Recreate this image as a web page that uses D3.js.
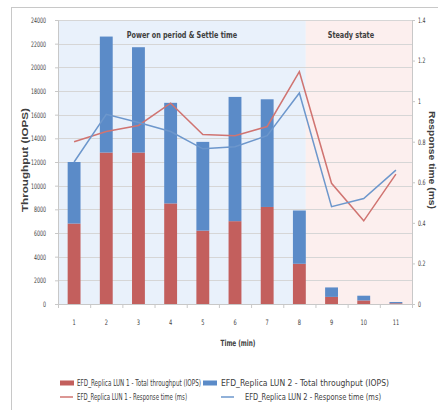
<!DOCTYPE html>
<html>
<head>
<meta charset="utf-8">
<script src="https://cdn.jsdelivr.net/npm/d3@7"></script>
<style>
  html, body { margin: 0; padding: 0; background: #fff; }
  svg { display: block; }
  text { font-family: "Liberation Sans Narrow", "DejaVu Sans Condensed", sans-serif; fill: #404040; }
</style>
</head>
<body>
<svg id="chart" width="438" height="410"></svg>
<script>
// Time steps (minutes)
const categories = ["1", "2", "3", "4", "5", "6", "7", "8", "9", "10", "11"];
// Throughput (IOPS) per LUN, stacked
const lun1Iops = [6800, 12800, 12800, 8500, 6200, 7000, 8200, 3400, 600, 300, 60];
const lun2Iops = [5200, 9800, 8900, 8500, 7500, 10500, 9100, 4500, 800, 400, 110];
// Response time (ms) per LUN
const lun1Rt = [0.80, 0.85, 0.88, 0.99, 0.835, 0.83, 0.875, 1.145, 0.595, 0.41, 0.64];
const lun2Rt = [0.70, 0.935, 0.895, 0.85, 0.765, 0.775, 0.83, 1.04, 0.48, 0.52, 0.66];
// Axis ticks
const leftTicks = [0, 2000, 4000, 6000, 8000, 10000, 12000, 14000, 16000, 18000, 20000, 22000, 24000];
const rightTicks = [0, 0.2, 0.4, 0.6, 0.8, 1, 1.2, 1.4];
// Phases along the time axis
const phases = ["Power on period & Settle time", "Steady state"];
const seriesNames = [
  "EFD_Replica LUN 1 - Total throughput (IOPS)",
  "EFD_Replica LUN 2 - Total throughput (IOPS)",
  "EFD_Replica LUN 1 - Response time (ms)",
  "EFD_Replica LUN 2 - Response time (ms)"
];

const RED = "#c35f5d", BLUE = "#5b8bc8";
const RED_LINE = "#d07471", BLUE_LINE = "#6d97cc";
const SX = 0.78; // horizontal squeeze of the typeface

const svg = d3.select("#chart");
const plot = { left: 58, right: 412, top: 20, bottom: 304 };

// outer frame
svg.append("rect").attr("x", 11.5).attr("y", 7.5).attr("width", 440).attr("height", 420)
  .attr("fill", "none").attr("stroke", "#c8c8c8").attr("stroke-width", 1);

const x = d3.scaleBand().domain(categories).range([plot.left, plot.right])
  .paddingInner(0.6).paddingOuter(0.3);
const yL = d3.scaleLinear().domain([0, 24000]).range([plot.bottom, plot.top]);
const yR = d3.scaleLinear().domain([0, 1.4]).range([plot.bottom, plot.top]);

// phase backgrounds: settle phase ends at the right edge of minute 8
const split = x("8") + x.bandwidth();
svg.append("rect").attr("x", plot.left).attr("y", plot.top)
  .attr("width", split - plot.left).attr("height", plot.bottom - plot.top).attr("fill", "#e9f1fb");
svg.append("rect").attr("x", split).attr("y", plot.top)
  .attr("width", plot.right - split).attr("height", plot.bottom - plot.top).attr("fill", "#fcefee");

// gridlines
svg.append("g").selectAll("line").data(leftTicks.slice(1)).join("line")
  .attr("x1", plot.left).attr("x2", plot.right)
  .attr("y1", d => Math.round(yL(d)) + 0.5).attr("y2", d => Math.round(yL(d)) + 0.5)
  .attr("stroke", "#d6d6d6").attr("stroke-width", 1);

// left axis
const gL = svg.append("g").attr("transform", `translate(${plot.left},0)`)
  .call(d3.axisLeft(yL).tickValues(leftTicks).tickFormat(d3.format("d")).tickSize(3).tickPadding(9));
gL.select(".domain").attr("stroke", "#c8c8c8");
gL.selectAll(".tick line").attr("stroke", "#c8c8c8");
gL.selectAll("text").attr("font-size", 7.5).attr("fill", "#555")
  .attr("transform", "translate(-12,0) scale(0.7,1) translate(12,0)");

// right axis
const gR = svg.append("g").attr("transform", `translate(${plot.right},0)`)
  .call(d3.axisRight(yR).tickValues(rightTicks).tickFormat(d => d3.format("~g")(d)).tickSize(3).tickPadding(3));
gR.select(".domain").attr("stroke", "#c8c8c8");
gR.selectAll(".tick line").attr("stroke", "#c8c8c8");
gR.selectAll("text").attr("font-size", 7.5).attr("fill", "#555")
  .attr("transform", "translate(6,0) scale(0.7,1) translate(-6,0)");

// bottom axis with ticks between categories
const gB = svg.append("g").attr("transform", `translate(0,${plot.bottom})`);
gB.append("line").attr("x1", plot.left).attr("x2", plot.right).attr("y1", 0.5).attr("y2", 0.5)
  .attr("stroke", "#c8c8c8");
const step = x.step();
const bounds = d3.range(categories.length + 1).map(i => plot.left + i * step);
gB.selectAll(".bt").data(bounds).join("line").attr("class", "bt")
  .attr("x1", d => d + 0.5).attr("x2", d => d + 0.5).attr("y1", 0).attr("y2", 4)
  .attr("stroke", "#c8c8c8");
gB.selectAll(".bl").data(categories).join("text").attr("class", "bl")
  .attr("x", d => x(d) + x.bandwidth() / 2).attr("y", 21)
  .attr("text-anchor", "middle").attr("font-size", 7.5).attr("fill", "#555")
  .text(d => d)
  .each(function (d) {
    const cx = x(d) + x.bandwidth() / 2;
    d3.select(this).attr("transform", `translate(${cx},0) scale(0.75,1) translate(${-cx},0)`);
  });

// stacked bars
const rows = categories.map((c, i) => ({ cat: c, lun1: lun1Iops[i], lun2: lun2Iops[i] }));
const stacked = d3.stack().keys(["lun1", "lun2"])(rows);
const colors = [RED, BLUE];
svg.append("g").selectAll("g").data(stacked).join("g")
  .attr("fill", (d, i) => colors[i])
  .selectAll("rect").data(d => d).join("rect")
  .attr("x", d => x(d.data.cat)).attr("width", x.bandwidth())
  .attr("y", d => yL(d[1])).attr("height", d => yL(d[0]) - yL(d[1]));

// response time lines
const line = d3.line().x((d, i) => x(categories[i]) + x.bandwidth() / 2).y(d => yR(d));
svg.append("path").datum(lun1Rt).attr("d", line).attr("fill", "none")
  .attr("stroke", RED_LINE).attr("stroke-width", 1.5);
svg.append("path").datum(lun2Rt).attr("d", line).attr("fill", "none")
  .attr("stroke", BLUE_LINE).attr("stroke-width", 1.5);

// horizontally squeezed text helper
function label(txt, cx, cy, opts = {}) {
  return svg.append("text").attr("x", 0).attr("y", 0)
    .attr("text-anchor", opts.anchor || "middle")
    .attr("font-size", opts.size || 8)
    .attr("font-weight", opts.weight || "normal")
    .attr("fill", opts.fill || "#404040")
    .attr("transform", `translate(${cx},${cy}) scale(${opts.sx || SX},1)`)
    .text(txt);
}

// phase titles
label(phases[0], (plot.left + split) / 2, 38, { size: 9, weight: "bold", fill: "#333", sx: 0.8 });
label(phases[1], (split + plot.right) / 2 - 8, 38, { size: 9, weight: "bold", fill: "#333", sx: 0.8 });

// axis titles
svg.append("text").attr("transform", "translate(28,160) rotate(-90)")
  .attr("text-anchor", "middle").attr("font-size", 9).attr("font-weight", "bold").attr("fill", "#333")
  .attr("textLength", 104).attr("lengthAdjust", "spacingAndGlyphs")
  .style("font-family", '"Liberation Sans", sans-serif')
  .text("Throughput (IOPS)");
svg.append("text").attr("transform", "translate(429,160) rotate(90)")
  .attr("text-anchor", "middle").attr("font-size", 8.5).attr("font-weight", "bold").attr("fill", "#333")
  .attr("textLength", 98).attr("lengthAdjust", "spacingAndGlyphs")
  .style("font-family", '"Liberation Sans", sans-serif')
  .text("Response time (ms)");
label("Time (min)", 238, 346, { size: 8.5, weight: "bold", fill: "#333", sx: 0.75 });

// legend
const legend = [
  { name: seriesNames[0], color: RED, kind: "bar", x: 60, y: 383, w: 124, tx: 77 },
  { name: seriesNames[1], color: BLUE, kind: "bar", x: 203, y: 383, w: 168, tx: 221 },
  { name: seriesNames[2], color: RED_LINE, kind: "line", x: 60, y: 397, w: 110, tx: 77 },
  { name: seriesNames[3], color: BLUE_LINE, kind: "line", x: 221, y: 397, w: 136, tx: 245 }
];
legend.forEach(l => {
  if (l.kind === "bar") {
    svg.append("rect").attr("x", l.x).attr("y", l.y - 2.5).attr("width", 14).attr("height", 5).attr("fill", l.color);
  } else {
    svg.append("line").attr("x1", l.x).attr("x2", l.x + 13).attr("y1", l.y).attr("y2", l.y)
      .attr("stroke", l.color).attr("stroke-width", 1.5);
  }
  svg.append("text").attr("x", l.tx).attr("y", l.y + 2.8)
    .attr("font-size", 8).attr("fill", "#444")
    .attr("textLength", l.w).attr("lengthAdjust", "spacingAndGlyphs")
    .text(l.name);
});
</script>
</body>
</html>
